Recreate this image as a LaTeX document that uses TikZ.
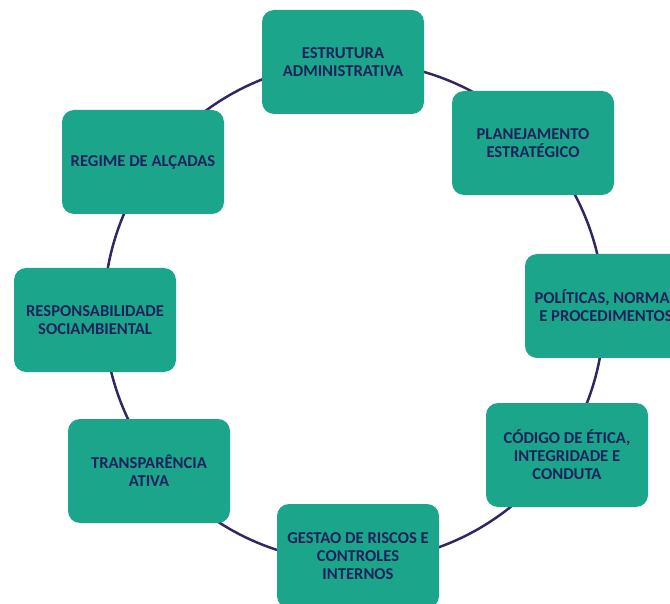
\documentclass[tikz,border=0pt]{standalone}
\usepackage{fontspec}
\setmainfont{Carlito}

\definecolor{boxgreen}{RGB}{27,165,138}
\definecolor{ringpurple}{RGB}{52,38,100}
\definecolor{txtnavy}{RGB}{30,34,92}

\begin{document}
\begin{tikzpicture}[x=1pt,y=-1pt,
  blk/.style={rounded corners=12pt,fill=boxgreen,minimum width=162pt,minimum height=104pt,
    align=center,text=txtnavy,font=\bfseries\fontsize{16.6}{18}\selectfont}]
\useasboundingbox (0,0) rectangle (670,604);
\clip (0,0) rectangle (670,604);
\node[circle,draw=ringpurple,line width=2.5pt,minimum size=500pt,inner sep=0pt] (ring) at (354,312) {};
\foreach \x/\y/\n/\t in {343/62/estrutura/{ESTRUTURA\\ADMINISTRATIVA},
    533/143/planej/{PLANEJAMENTO\\ESTRATÉGICO},
    606/306/politicas/{POLÍTICAS, NORMAS\\E PROCEDIMENTOS},
    567/455/codigo/{CÓDIGO DE ÉTICA,\\INTEGRIDADE E\\CONDUTA},
    358/556/riscos/{GESTAO DE RISCOS E\\CONTROLES\\INTERNOS},
    149/471/transp/{TRANSPARÊNCIA\\ATIVA},
    95/320/resp/{RESPONSABILIDADE\\SOCIAMBIENTAL},
    143/162/regime/{REGIME DE ALÇADAS}}
  \node[blk] (\n) at (\x,\y) {\t};
\end{tikzpicture}
\end{document}
